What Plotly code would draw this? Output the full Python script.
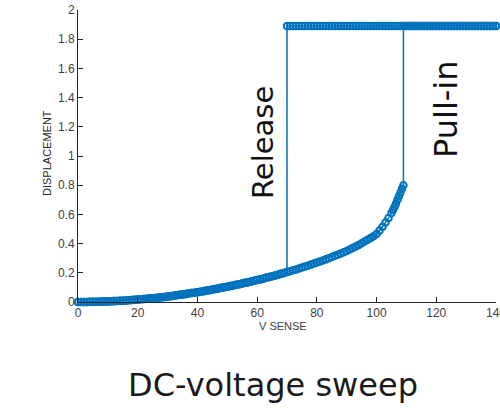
import plotly.graph_objects as go

# Lower (stable, pre-pull-in) branch: voltage [V] and displacement
lower_v = list(range(0, 101)) + [101, 102, 103, 104, 105, 105.5, 106, 106.5, 107, 107.5, 108, 108.5, 109]
lower_d = [
    0.000, 0.000, 0.000, 0.000, 0.001, 0.001, 0.002, 0.002, 0.003, 0.003,
    0.004, 0.005, 0.006, 0.007, 0.008, 0.009, 0.011, 0.012, 0.014, 0.015,
    0.017, 0.019, 0.020, 0.022, 0.024, 0.026, 0.028, 0.031, 0.033, 0.035,
    0.038, 0.040, 0.043, 0.046, 0.049, 0.051, 0.054, 0.058, 0.061, 0.064,
    0.067, 0.071, 0.074, 0.078, 0.081, 0.085, 0.089, 0.093, 0.097, 0.101,
    0.105, 0.109, 0.113, 0.118, 0.122, 0.127, 0.131, 0.136, 0.141, 0.145,
    0.150, 0.155, 0.160, 0.166, 0.171, 0.176, 0.182, 0.187, 0.193, 0.199,
    0.205, 0.211, 0.217, 0.223, 0.230, 0.236, 0.243, 0.249, 0.256, 0.263,
    0.270, 0.277, 0.285, 0.292, 0.300, 0.308, 0.316, 0.324, 0.332, 0.341,
    0.350, 0.360, 0.370, 0.380, 0.391, 0.402, 0.414, 0.426, 0.438, 0.451,
    0.465,
    0.490, 0.515, 0.545, 0.575, 0.610, 0.630, 0.650, 0.675, 0.700, 0.725,
    0.750, 0.775, 0.800,
]

# Upper (pulled-in) branch
upper_v = list(range(70, 141))
upper_d = [1.89] * len(upper_v)

pull_in_v = 109
release_v = 70

# Forward sweep: lower branch up to pull-in, jump, upper to 140
fwd_v = lower_v + [v for v in upper_v if v >= pull_in_v]
fwd_d = lower_d + [d for v, d in zip(upper_v, upper_d) if v >= pull_in_v]
# Backward sweep: upper from 140 to release, drop, lower back to 0
bwd_v = upper_v[::-1] + [v for v in lower_v if v <= release_v][::-1]
bwd_d = upper_d[::-1] + [d for v, d in zip(lower_v, lower_d) if v <= release_v][::-1]

sweep_v = fwd_v + bwd_v
sweep_d = fwd_d + bwd_d

x_ticks = [0, 20, 40, 60, 80, 100, 120, 140]
y_ticks = [0, 0.2, 0.4, 0.6, 0.8, 1, 1.2, 1.4, 1.6, 1.8, 2]

blue = "#0072BD"
fig = go.Figure()
fig.add_trace(go.Scatter(
    x=sweep_v, y=sweep_d, mode="lines+markers",
    line=dict(color=blue, width=1.5),
    marker=dict(symbol="circle-open", size=6.5, color=blue, line=dict(width=2, color=blue)),
    showlegend=False, cliponaxis=False,
))

L, R, T, B = 78, 4, 10, 109
W, H = 500, 411
pw, ph = W - L - R, H - T - B

def px(xp):
    return (xp - L) / pw

def py(yp):
    return (H - B - yp) / ph

axis_common = dict(
    showgrid=False, zeroline=False, showline=True, linecolor="#262626", linewidth=1,
    ticks="inside", ticklen=5, tickcolor="#262626", tickwidth=1, automargin=False,
    ticklabeloverflow="allow",
    tickfont=dict(family="Liberation Sans, Arial", size=12, color="#404040"),
)
fig.update_xaxes(range=[0, 140], tickvals=x_ticks, ticktext=[str(t) for t in x_ticks], **axis_common)
fig.update_yaxes(range=[0, 2], tickvals=y_ticks, ticktext=[f"{t:g}" for t in y_ticks], **axis_common)

def note(text, x, y, size, family, color, angle=0):
    return dict(text=text, xref="paper", yref="paper", x=px(x), y=py(y), showarrow=False,
                xanchor="center", yanchor="middle", textangle=angle,
                font=dict(family=family, size=size, color=color))

fig.update_layout(
    width=W, height=H, margin=dict(l=L, r=R, t=T, b=B, pad=0),
    plot_bgcolor="white", paper_bgcolor="white",
    annotations=[
        note("V SENSE", 283, 326, 11, "Liberation Sans, Arial", "#404040"),
        note("DISPLACEMENT", 47, 153, 11, "Liberation Sans, Arial", "#262626", -90),
        note("Release", 263, 143, 29, "DejaVu Sans", "#111111", -90),
        note("Pull-in", 446, 109, 32, "DejaVu Sans", "#111111", -90),
        note("DC-voltage sweep", 273, 385, 32, "DejaVu Sans", "#1a1a1a"),
    ],
)

fig.write_html(
    "out.html",
    config={"displayModeBar": False},
    post_script="document.body.style.margin='0';document.body.style.overflow='hidden';",
)
